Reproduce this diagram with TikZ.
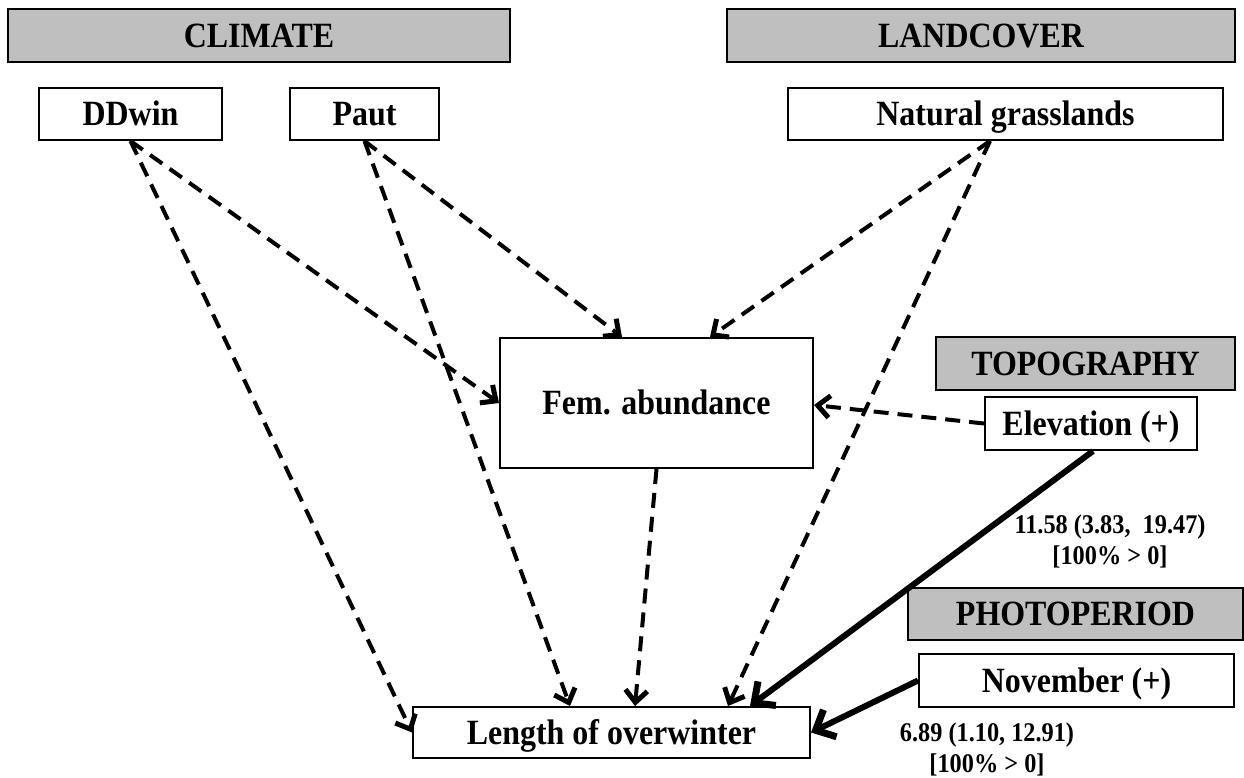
\documentclass[tikz,border=0pt]{standalone}
\usepackage{fontspec}
\setmainfont[FakeStretch=0.9]{Liberation Serif}
\usetikzlibrary{arrows.meta}
\definecolor{headgray}{HTML}{BFBFBF}
\begin{document}
\begin{tikzpicture}[x=1pt,y=-1pt,
  every node/.style={font=\fontsize{35.5}{40}\selectfont\bfseries, inner sep=0pt},
  capcentred/.style={text height=23pt, text depth=0pt},
  varbox/.style={capcentred, draw=black, line width=2pt, fill=white, minimum width=#1, minimum height=52pt},
  groupbox/.style={capcentred, draw=black, line width=2pt, fill=headgray, minimum width=#1, minimum height=53pt},
  estimate/.style={font=\fontsize{27}{31}\selectfont\bfseries, align=center},
  weakpath/.style={line width=4pt, dash pattern=on 15pt off 9pt,
    -{Straight Barb[length=12pt, width=22pt, line width=5pt]}},
  strongpath/.style={line width=6pt,
    -{Straight Barb[length=16pt, width=30pt, line width=7pt]}}]
\useasboundingbox (0,0) rectangle (1244,777);

% group headers
\node[groupbox=502pt] (climate) at (259,35.5) {CLIMATE};
\node[groupbox=508pt] (landcover) at (981,35.5) {LANDCOVER};
\node[groupbox=299pt] (topo) at (1085.5,363.5) {TOPOGRAPHY};
\node[groupbox=335pt, minimum height=52pt] (photo) at (1075.5,614) {PHOTOPERIOD};

% variables
\node[varbox=183pt] (ddwin) at (130.5,114) {DDwin};
\node[varbox=149pt] (paut) at (364.5,114) {Paut};
\node[varbox=435pt] (grass) at (1005.5,114) {Natural grasslands};
\node[varbox=313pt, minimum height=130pt] (fem) at (656.5,403) {Fem. abundance};
\node[varbox=212pt, minimum height=53pt] (elev) at (1091,423.5) {Elevation (+)};
\node[varbox=315pt, minimum height=53pt] (nov) at (1076.5,680.5) {November (+)};
\node[varbox=397pt, minimum height=51pt] (len) at (611.5,732.5) {Length of overwinter};

% posterior estimates
\node[estimate] (elevest) at (1110,541) {11.58 (3.83,\ \ 19.47)\\[0pt][100\% > 0]};
\node[estimate] (novest) at (987,749) {6.89 (1.10, 12.91)\\[0pt][100\% > 0]};

% non-significant paths
\draw[weakpath] (ddwin.south) -- (fem.west);
\draw[weakpath] (ddwin.south) -- (len.west);
\draw[weakpath] (paut.south) -- ([xshift=-34.5pt]fem.north);
\draw[weakpath] (paut.south) -- ([xshift=-41.5pt]len.north);
\draw[weakpath] ([xshift=-15.5pt]grass.south) -- ([xshift=53.5pt]fem.north);
\draw[weakpath] ([xshift=-15.5pt]grass.south) -- ([xshift=116.5pt]len.north);
\draw[weakpath] (elev.west) -- ([yshift=-2pt]fem.east);
\draw[weakpath] (fem.south) -- ([xshift=23.5pt]len.north);

% significant paths
\draw[strongpath] ([xshift=2pt]elev.south) -- ([xshift=138.5pt]len.north);
\draw[strongpath] (nov.west) -- (len.east);
\end{tikzpicture}
\end{document}
